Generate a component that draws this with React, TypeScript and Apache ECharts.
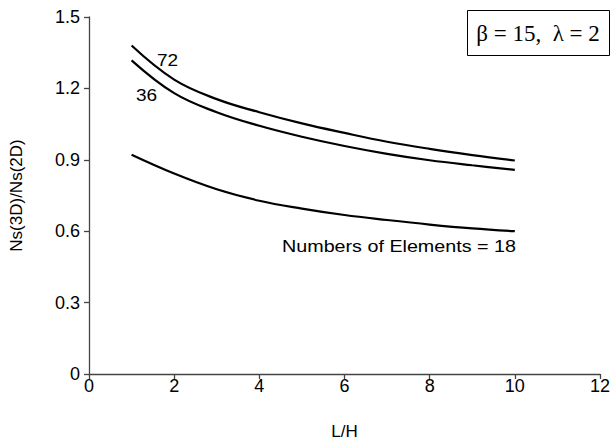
import React, { useEffect, useRef } from "react";
import * as echarts from "echarts";

const lh = [1, 2, 3, 4, 5, 6, 7, 8, 9, 10];
const elems72 = [1.38, 1.237, 1.155, 1.1, 1.053, 1.013, 0.976, 0.946, 0.92, 0.897];
const elems36 = [1.318, 1.18, 1.1, 1.043, 0.997, 0.958, 0.925, 0.898, 0.877, 0.858];
const elems18 = [0.921, 0.842, 0.776, 0.728, 0.695, 0.668, 0.647, 0.628, 0.612, 0.6];

const seriesNames = ["72", "36", "18"];
const seriesValues = [elems72, elems36, elems18];

const FONT = "Arial, 'Liberation Sans', sans-serif";

export default function App() {
  const ref = useRef<HTMLDivElement>(null);
  useEffect(() => {
    if (!ref.current) return;
    const chart = echarts.init(ref.current, null, { renderer: "svg" });
    const axisLine = { show: true, lineStyle: { color: "#444", width: 1.3 } };
    chart.setOption({
      animation: false,
      backgroundColor: "#fff",
      grid: { left: 88, right: 7.5, top: 17, bottom: 68 },
      xAxis: {
        type: "value",
        min: 0,
        max: 12,
        interval: 2,
        name: "L/H",
        nameLocation: "middle",
        nameGap: 49,
        nameTextStyle: { color: "#000", fontSize: 17, fontFamily: FONT },
        axisLine,
        axisTick: { show: true, length: 5, lineStyle: { color: "#444", width: 1.3 } },
        axisLabel: { color: "#000", fontSize: 18, fontFamily: FONT, margin: 3 },
        splitLine: { show: false },
      },
      yAxis: {
        type: "value",
        min: 0,
        max: 1.5,
        interval: 0.3,
        name: "Ns(3D)/Ns(2D)",
        nameLocation: "middle",
        nameGap: 64,
        nameTextStyle: { color: "#000", fontSize: 17, fontFamily: FONT },
        axisLine,
        axisTick: { show: true, length: 5, lineStyle: { color: "#444", width: 1.3 } },
        axisLabel: {
          color: "#000",
          fontSize: 18,
          fontFamily: FONT,
          margin: 9,
          formatter: (v: number) => (v === 0 ? "0" : v.toFixed(1)),
        },
        splitLine: { show: false },
      },
      series: seriesValues.map((vals, i) => ({
        name: seriesNames[i],
        type: "line",
        smooth: 0.4,
        showSymbol: false,
        data: lh.map((x, j) => [x, vals[j]]),
        lineStyle: { color: "#000", width: 2.2 },
      })),
      graphic: [
        {
          type: "text",
          x: 157,
          y: 52,
          scaleX: 1.12,
          style: { text: "72", fontSize: 17, fontFamily: FONT, fill: "#000" },
        },
        {
          type: "text",
          x: 136,
          y: 87,
          scaleX: 1.12,
          style: { text: "36", fontSize: 17, fontFamily: FONT, fill: "#000" },
        },
        {
          type: "text",
          x: 282,
          y: 237,
          scaleX: 1.16,
          style: { text: "Numbers of Elements = 18", fontSize: 17, fontFamily: FONT, fill: "#000" },
        },
        {
          type: "rect",
          shape: { x: 467.5, y: 10.5, width: 142, height: 45 },
          style: { fill: "#fff", stroke: "#000", lineWidth: 1 },
        },
        {
          type: "text",
          x: 538,
          y: 33,
          style: {
            text: "β = 15,  λ = 2",
            fontSize: 23,
            fontFamily: "'Liberation Serif', 'Times New Roman', serif",
            fill: "#000",
            align: "center",
            verticalAlign: "middle",
          },
        },
      ],
    });
    return () => chart.dispose();
  }, []);
  return <div ref={ref} style={{ width: 613, height: 445, position: "absolute", left: 0, top: 0 }} />;
}
